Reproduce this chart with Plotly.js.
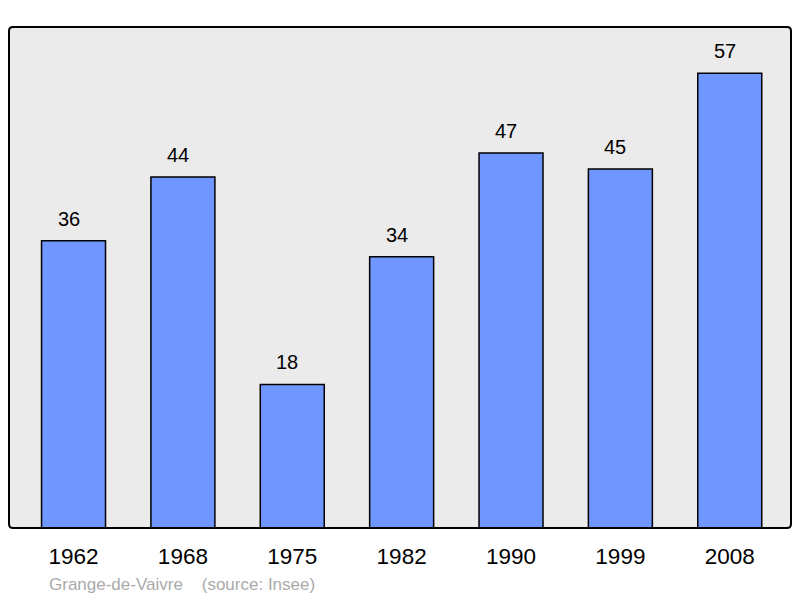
<!DOCTYPE html>
<html><head><meta charset="utf-8">
<script src="https://cdn.plot.ly/plotly-3.0.1.min.js"></script>
<style>html,body{margin:0;padding:0;background:#fff}#c{width:800px;height:598px}</style>
</head><body><div id="c"></div>
<script>
const years = ["1962","1968","1975","1982","1990","1999","2008"];
const population = [36,44,18,34,47,45,57];
const caption = "Grange-de-Vaivre &nbsp;&nbsp; (source: Insee)";

const trace = {
  type: "bar",
  x: years,
  y: population,
  width: 0.585,
  marker: {color: "#7097ff", line: {color: "#000", width: 1.5}},
  hoverinfo: "none"
};
const valueLabels = population.map((v, i) => ({
  x: i, y: v, xref: "x", yref: "y",
  text: String(v), showarrow: false,
  xanchor: "center", yanchor: "bottom", yshift: 9, xshift: -5,
  font: {size: 20, color: "#000"}
}));
const rx = 4 / 782, ry = 4 / 501;
const framePath = `M ${rx},1 L ${1-rx},1 Q 1,1 1,${1-ry} L 1,${ry} Q 1,0 ${1-rx},0 L ${rx},0 Q 0,0 0,${ry} L 0,${1-ry} Q 0,1 ${rx},1 Z`;
const layout = {
  width: 800, height: 598,
  margin: {l: 9, r: 9, t: 27, b: 70},
  paper_bgcolor: "#fff",
  plot_bgcolor: "rgba(0,0,0,0)",
  showlegend: false,
  font: {family: "Liberation Sans, Arial, sans-serif"},
  xaxis: {type: "category", range: [-0.59, 6.56], showgrid: false, zeroline: false,
          showline: false, ticks: "", tickfont: {size: 22.5, color: "#000"}, ticklabelstandoff: 12, fixedrange: true},
  yaxis: {range: [0, 62.8], showgrid: false, zeroline: false, showticklabels: false, ticks: "", showline: false, fixedrange: true},
  shapes: [
    {type: "path", xref: "paper", yref: "paper", path: framePath, fillcolor: "#ebebeb", line: {width: 0}, layer: "below"},
    {type: "path", xref: "paper", yref: "paper", path: framePath, line: {color: "#000", width: 2}, layer: "above"}
  ],
  annotations: valueLabels.concat([{xref: "paper", yref: "paper", x: 0, y: 0, xanchor: "left", yanchor: "middle",
                 xshift: 38, yshift: -56, showarrow: false, text: caption,
                 font: {size: 17, color: "#aaaaaa"}}])
};
Plotly.newPlot("c", [trace], layout, {staticPlot: true});
</script></body></html>
